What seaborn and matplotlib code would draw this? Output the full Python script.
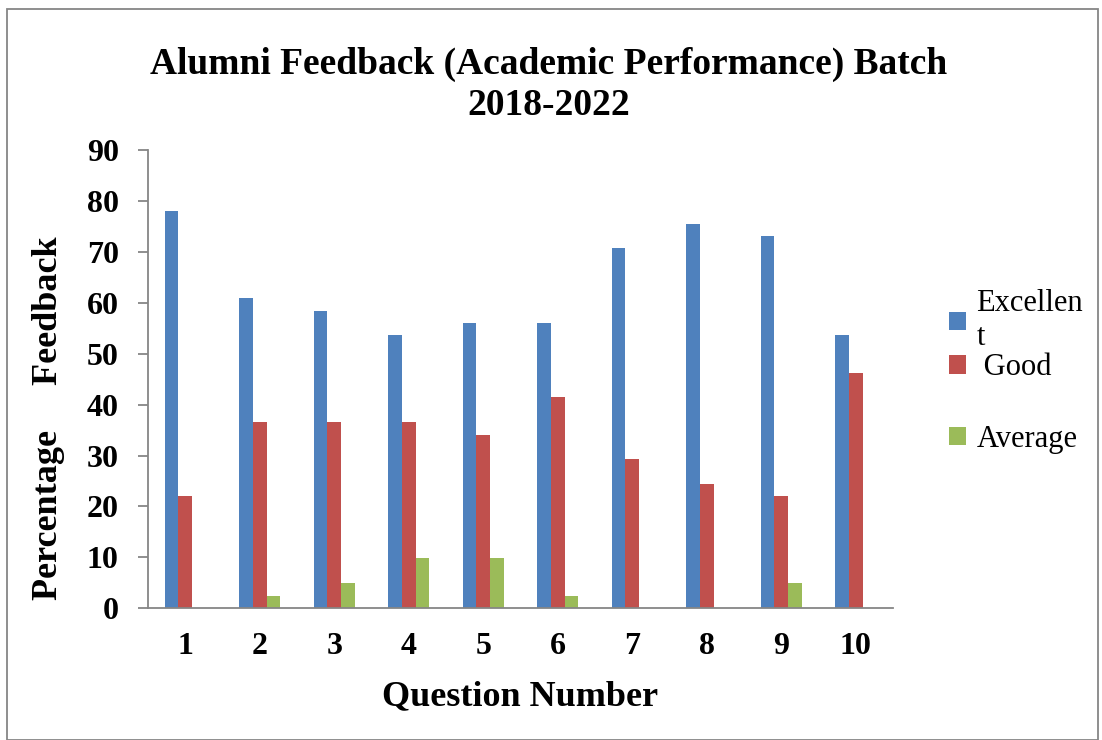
import pandas as pd
import numpy as np
import matplotlib
matplotlib.use('Agg')
import matplotlib.pyplot as plt
import seaborn as sns
from matplotlib.patches import Rectangle

# Dati (percentuali per domanda)
questions = ['1', '2', '3', '4', '5', '6', '7', '8', '9', '10']
excellent = [78.0, 61.0, 58.5, 53.7, 56.1, 56.1, 70.7, 75.6, 73.2, 53.7]
good = [22.0, 36.6, 36.6, 36.6, 34.1, 41.5, 29.3, 24.4, 22.0, 46.3]
average = [0, 2.4, 4.9, 9.8, 9.8, 2.4, 0, 0, 4.9, 0]
series_names = ['Excellen\nt', ' Good', 'Average']
colors = ['#4F81BD', '#C0504D', '#9BBB59']

df = pd.DataFrame({
    'question': questions * 3,
    'value': excellent + good + average,
    'serie': [series_names[0]] * 10 + [series_names[1]] * 10 + [series_names[2]] * 10,
})

sns.set_style('white')
plt.rcParams['font.family'] = ['Liberation Serif', 'DejaVu Serif']
plt.rcParams['text.color'] = 'black'
plt.rcParams['axes.labelcolor'] = 'black'
plt.rcParams['xtick.labelcolor'] = 'black'
plt.rcParams['ytick.labelcolor'] = 'black'

fig = plt.figure(figsize=(11.02, 7.4), dpi=100)
ax = fig.add_axes([0.1343, 0.178, 0.676, 0.619])

sns.barplot(data=df, x='question', y='value', hue='serie', palette=colors,
            width=0.55, saturation=1, ax=ax, edgecolor='none')

ax.set_ylim(0, 90)
ax.set_yticks(range(0, 91, 10))
ax.set_xlim(-0.5, 9.5)
for s in ['top', 'right']:
    ax.spines[s].set_visible(False)
for s in ['left', 'bottom']:
    ax.spines[s].set_color('#868686')
    ax.spines[s].set_linewidth(1.3)
ax.tick_params(axis='y', length=7, width=1.3, color='#868686', direction='out', left=True, pad=14)
ax.tick_params(axis='x', length=0, pad=17)
for lab in ax.get_xticklabels() + ax.get_yticklabels():
    lab.set_fontsize(23)
    lab.set_fontweight('bold')

ax.set_xlabel('Question Number', fontsize=26, fontweight='bold', labelpad=14)
ax.set_ylabel('Percentage     Feedback', fontsize=26, fontweight='bold')
ax.yaxis.set_label_coords(-0.112, 0.415)

fig.text(0.498, 0.937, 'Alumni Feedback (Academic Performance) Batch\n2018-2022',
         fontsize=27, fontweight='bold', ha='center', va='top', linespacing=1.22)

# legenda: le prime due voci sono vicine, "Average" più distanziata
handles, labels = ax.get_legend_handles_labels()
leg_kw = dict(frameon=False, fontsize=22, handlelength=0.55, handleheight=0.55,
              handletextpad=0.35, borderpad=0, borderaxespad=0)
leg1 = ax.legend(handles[:2], labels[:2], loc='upper left', bbox_to_anchor=(0.861, 0.609),
                 bbox_transform=fig.transFigure, labelspacing=0.05, **leg_kw)
ax.add_artist(leg1)
ax.legend(handles[2:], labels[2:], loc='upper left', bbox_to_anchor=(0.861, 0.426),
          bbox_transform=fig.transFigure, **leg_kw)

# bordo grigio del grafico
fig.patches.append(Rectangle((0.0065, 0.0), 0.99, 0.988, transform=fig.transFigure,
                             fill=False, edgecolor='#868686', linewidth=1.3))

fig.savefig('out.png', dpi=100)
